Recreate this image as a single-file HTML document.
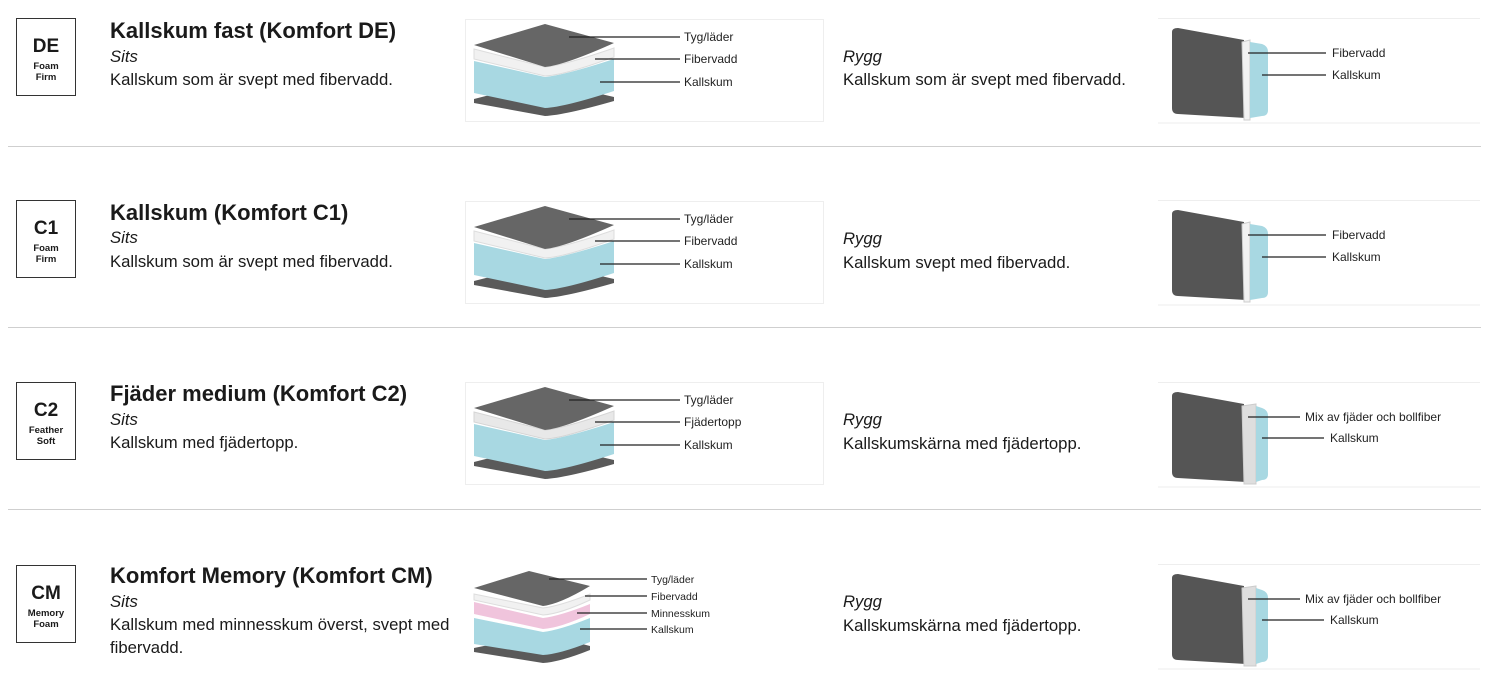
<!DOCTYPE html>
<html><head><meta charset="utf-8"><style>
body{margin:0;width:1500px;height:680px;background:#fff;position:relative;overflow:hidden;font-family:"Liberation Sans",sans-serif;color:#1a1a1a}
.a{position:absolute;white-space:nowrap}
.badge{position:absolute;left:16px;width:60px;height:78px;border:1.3px solid #333;text-align:center;box-sizing:border-box}
.badge b{display:block;font-size:19px;margin-top:18px;line-height:20px}
.badge span{display:block;font-size:9.5px;font-weight:bold;line-height:11px;margin-top:4px}
.t{font-size:22px;font-weight:bold}
.s{font-size:16.7px;font-style:italic}
.d{font-size:16.7px;line-height:23px}
.hr{position:absolute;left:8px;width:1473px;height:1px;background:#cfcfcf}
svg{position:absolute}
svg text{font-family:"Liberation Sans",sans-serif;font-size:12px;fill:#222}
</style></head><body>

<div class="hr" style="top:146px"></div>
<div class="hr" style="top:327px"></div>
<div class="hr" style="top:509px"></div>

<!-- Row 1 -->
<div class="badge" style="top:18px"><b>DE</b><span>Foam<br>Firm</span></div>
<div class="a t" style="left:110px;top:18px">Kallskum fast (Komfort DE)</div>
<div class="a s" style="left:110px;top:47px">Sits</div>
<div class="a d" style="left:110px;top:68px">Kallskum som är svept med fibervadd.</div>
<div class="a s" style="left:843px;top:47px">Rygg</div>
<div class="a d" style="left:843px;top:68px">Kallskum som är svept med fibervadd.</div>

<svg style="left:465px;top:19px" width="360" height="104" viewBox="0 0 360 104">
<rect x="0.5" y="0.5" width="358" height="102" fill="none" stroke="#eee"/>
<path d="M9 80 L80 62 L149 78 L149 82 Q100 96 80 97 L9 84Z" fill="#5a5a5a"/>
<path d="M9 42 L80 58 Q100 56 149 40 L149 72 Q100 88 80 89 L9 74Z" fill="#a8d8e2"/>
<path d="M9 30 L80 48 Q100 46 149 29 L149 38 Q100 56 80 57 L9 40Z" fill="#f1f1f1" stroke="#ddd"/>
<path d="M9 26 L80 5 L149 24 Q100 46 80 48Z" fill="#666"/>
<g stroke="#222" stroke-width="1.2"><line x1="104" y1="18" x2="215" y2="18"/><line x1="130" y1="40" x2="215" y2="40"/><line x1="135" y1="63" x2="215" y2="63"/></g>
<text x="219" y="22">Tyg/läder</text><text x="219" y="44">Fibervadd</text><text x="219" y="67">Kallskum</text>
</svg>

<svg style="left:1158px;top:18px" width="330" height="106" viewBox="0 0 330 106">
<line x1="0" y1="0.5" x2="322" y2="0.5" stroke="#eee"/><line x1="0" y1="105" x2="322" y2="105" stroke="#eee"/>
<path d="M14 14 Q14 10 20 10 L86 22 L88 100 L20 96 Q14 96 14 90Z" fill="#555"/>
<path d="M84 24 L92 22 L92 102 L86 102Z" fill="#f2f2f2" stroke="#ccc"/>
<path d="M92 24 L104 26 Q110 28 110 34 L110 92 Q110 98 104 98 L92 100Z" fill="#a8d8e2"/>
<g stroke="#222" stroke-width="1.2"><line x1="90" y1="35" x2="168" y2="35"/><line x1="104" y1="57" x2="168" y2="57"/></g>
<text x="174" y="39">Fibervadd</text><text x="174" y="61">Kallskum</text>
</svg>

<!-- Row 2 -->
<div class="badge" style="top:200px"><b>C1</b><span>Foam<br>Firm</span></div>
<div class="a t" style="left:110px;top:200px">Kallskum (Komfort C1)</div>
<div class="a s" style="left:110px;top:228px">Sits</div>
<div class="a d" style="left:110px;top:250px">Kallskum som är svept med fibervadd.</div>
<div class="a s" style="left:843px;top:229px">Rygg</div>
<div class="a d" style="left:843px;top:251px">Kallskum svept med fibervadd.</div>

<svg style="left:465px;top:201px" width="360" height="104" viewBox="0 0 360 104">
<rect x="0.5" y="0.5" width="358" height="102" fill="none" stroke="#eee"/>
<path d="M9 80 L80 62 L149 78 L149 82 Q100 96 80 97 L9 84Z" fill="#5a5a5a"/>
<path d="M9 42 L80 58 Q100 56 149 40 L149 72 Q100 88 80 89 L9 74Z" fill="#a8d8e2"/>
<path d="M9 30 L80 48 Q100 46 149 29 L149 38 Q100 56 80 57 L9 40Z" fill="#f1f1f1" stroke="#ddd"/>
<path d="M9 26 L80 5 L149 24 Q100 46 80 48Z" fill="#666"/>
<g stroke="#222" stroke-width="1.2"><line x1="104" y1="18" x2="215" y2="18"/><line x1="130" y1="40" x2="215" y2="40"/><line x1="135" y1="63" x2="215" y2="63"/></g>
<text x="219" y="22">Tyg/läder</text><text x="219" y="44">Fibervadd</text><text x="219" y="67">Kallskum</text>
</svg>

<svg style="left:1158px;top:200px" width="330" height="106" viewBox="0 0 330 106">
<line x1="0" y1="0.5" x2="322" y2="0.5" stroke="#eee"/><line x1="0" y1="105" x2="322" y2="105" stroke="#eee"/>
<path d="M14 14 Q14 10 20 10 L86 22 L88 100 L20 96 Q14 96 14 90Z" fill="#555"/>
<path d="M84 24 L92 22 L92 102 L86 102Z" fill="#f2f2f2" stroke="#ccc"/>
<path d="M92 24 L104 26 Q110 28 110 34 L110 92 Q110 98 104 98 L92 100Z" fill="#a8d8e2"/>
<g stroke="#222" stroke-width="1.2"><line x1="90" y1="35" x2="168" y2="35"/><line x1="104" y1="57" x2="168" y2="57"/></g>
<text x="174" y="39">Fibervadd</text><text x="174" y="61">Kallskum</text>
</svg>

<!-- Row 3 -->
<div class="badge" style="top:382px"><b>C2</b><span>Feather<br>Soft</span></div>
<div class="a t" style="left:110px;top:381px">Fjäder medium (Komfort C2)</div>
<div class="a s" style="left:110px;top:410px">Sits</div>
<div class="a d" style="left:110px;top:431px">Kallskum med fjädertopp.</div>
<div class="a s" style="left:843px;top:410px">Rygg</div>
<div class="a d" style="left:843px;top:432px">Kallskumskärna med fjädertopp.</div>

<svg style="left:465px;top:382px" width="360" height="104" viewBox="0 0 360 104">
<rect x="0.5" y="0.5" width="358" height="102" fill="none" stroke="#eee"/>
<path d="M9 80 L80 62 L149 78 L149 82 Q100 96 80 97 L9 84Z" fill="#5a5a5a"/>
<path d="M9 42 L80 58 Q100 56 149 40 L149 72 Q100 88 80 89 L9 74Z" fill="#a8d8e2"/>
<path d="M9 30 L80 48 Q100 46 149 29 L149 38 Q100 56 80 57 L9 40Z" fill="#e8e8e8" stroke="#d5d5d5"/>
<path d="M9 26 L80 5 L149 24 Q100 46 80 48Z" fill="#666"/>
<g stroke="#222" stroke-width="1.2"><line x1="104" y1="18" x2="215" y2="18"/><line x1="130" y1="40" x2="215" y2="40"/><line x1="135" y1="63" x2="215" y2="63"/></g>
<text x="219" y="22">Tyg/läder</text><text x="219" y="44">Fjädertopp</text><text x="219" y="67">Kallskum</text>
</svg>

<svg style="left:1158px;top:382px" width="330" height="106" viewBox="0 0 330 106">
<line x1="0" y1="0.5" x2="322" y2="0.5" stroke="#eee"/><line x1="0" y1="105" x2="322" y2="105" stroke="#eee"/>
<path d="M14 14 Q14 10 20 10 L86 22 L88 100 L20 96 Q14 96 14 90Z" fill="#555"/>
<path d="M84 24 L98 22 L98 102 L86 102Z" fill="#dedede" stroke="#ccc"/>
<path d="M98 24 L104 26 Q110 28 110 34 L110 92 Q110 98 104 98 L98 100Z" fill="#a8d8e2"/>
<g stroke="#222" stroke-width="1.2"><line x1="90" y1="35" x2="142" y2="35"/><line x1="104" y1="56" x2="166" y2="56"/></g>
<text x="147" y="39">Mix av fjäder och bollfiber</text><text x="172" y="60">Kallskum</text>
</svg>

<!-- Row 4 -->
<div class="badge" style="top:565px"><b>CM</b><span>Memory<br>Foam</span></div>
<div class="a t" style="left:110px;top:563px">Komfort Memory (Komfort CM)</div>
<div class="a s" style="left:110px;top:592px">Sits</div>
<div class="a d" style="left:110px;top:613px">Kallskum med minnesskum överst, svept med<br>fibervadd.</div>
<div class="a s" style="left:843px;top:592px">Rygg</div>
<div class="a d" style="left:843px;top:614px">Kallskumskärna med fjädertopp.</div>

<svg style="left:465px;top:566px" width="300" height="104" viewBox="0 0 300 104">
<path d="M9 82 L78 68 L125 80 L125 84 Q95 96 78 97 L9 86Z" fill="#5a5a5a"/>
<path d="M9 52 L78 66 Q95 64 125 52 L125 76 Q95 88 78 89 L9 78Z" fill="#a8d8e2"/>
<path d="M9 36 L78 52 Q95 50 125 38 L125 48 Q95 62 78 63 L9 48Z" fill="#f0c4dc"/>
<path d="M9 28 L78 42 Q95 40 125 28 L125 34 Q95 48 78 49 L9 34Z" fill="#f1f1f1" stroke="#ddd"/>
<path d="M9 22 L64 5 L125 20 Q95 38 78 40Z" fill="#666"/>
<g stroke="#222" stroke-width="1.2"><line x1="84" y1="13" x2="182" y2="13"/><line x1="120" y1="30" x2="182" y2="30"/><line x1="112" y1="47" x2="182" y2="47"/><line x1="115" y1="63" x2="182" y2="63"/></g>
<text x="186" y="17" style="font-size:10.5px">Tyg/läder</text><text x="186" y="34" style="font-size:10.5px">Fibervadd</text><text x="186" y="51" style="font-size:10.5px">Minnesskum</text><text x="186" y="67" style="font-size:10.5px">Kallskum</text>
</svg>

<svg style="left:1158px;top:564px" width="330" height="106" viewBox="0 0 330 106">
<line x1="0" y1="0.5" x2="322" y2="0.5" stroke="#eee"/><line x1="0" y1="105" x2="322" y2="105" stroke="#eee"/>
<path d="M14 14 Q14 10 20 10 L86 22 L88 100 L20 96 Q14 96 14 90Z" fill="#555"/>
<path d="M84 24 L98 22 L98 102 L86 102Z" fill="#dedede" stroke="#ccc"/>
<path d="M98 24 L104 26 Q110 28 110 34 L110 92 Q110 98 104 98 L98 100Z" fill="#a8d8e2"/>
<g stroke="#222" stroke-width="1.2"><line x1="90" y1="35" x2="142" y2="35"/><line x1="104" y1="56" x2="166" y2="56"/></g>
<text x="147" y="39">Mix av fjäder och bollfiber</text><text x="172" y="60">Kallskum</text>
</svg>

</body></html>
